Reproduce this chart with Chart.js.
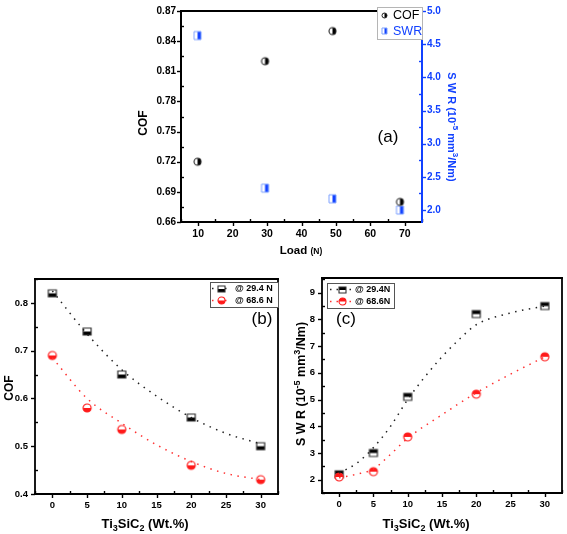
<!DOCTYPE html>
<html><head><meta charset="utf-8">
<script src="https://cdn.jsdelivr.net/npm/chart.js@4.4.0/dist/chart.umd.min.js"></script>
<style>
html,body{margin:0;padding:0;background:#fff;}
#wrap{position:relative;width:567px;height:534px;overflow:hidden;background:#fff;}
.layer{position:absolute;left:0;top:0;width:567px;height:534px;}
</style></head><body>
<div id="wrap">
<div class="layer"><canvas id="ca" width="567" height="534"></canvas></div>
<div class="layer"><canvas id="cb" width="567" height="534"></canvas></div>
<div class="layer"><canvas id="cc" width="567" height="534"></canvas></div>
</div>
<script>
// ---------- data ----------
// (a)
const loadN = [9.8, 29.4, 49, 68.6];
const cofA  = [0.72, 0.82, 0.85, 0.68];
const swrA  = [4.63, 2.33, 2.17, 2.0];
const aXTicks   = [10, 20, 30, 40, 50, 60, 70];
const aCofTicks = [0.66, 0.69, 0.72, 0.75, 0.78, 0.81, 0.84, 0.87];
const aSwrTicks = [2.0, 2.5, 3.0, 3.5, 4.0, 4.5, 5.0];
// (b) and (c)
const wtPct   = [0, 5, 10, 20, 30];
const cofB294 = [0.82, 0.74, 0.65, 0.56, 0.50];
const cofB686 = [0.69, 0.58, 0.535, 0.46, 0.43];
const fitXB      = [0, 5, 10, 15, 20, 25, 30];
const cofFit294  = [0.825, 0.735, 0.66, 0.605, 0.56, 0.527, 0.505];
const cofFit686  = [0.685, 0.60, 0.548, 0.503, 0.468, 0.443, 0.43];
const swrC294 = [2.2, 3.0, 5.1, 8.2, 8.5];
const swrC686 = [2.1, 2.3, 3.6, 5.2, 6.6];
const fitXC294   = [0, 2.5, 5, 7.5, 10, 12.5, 15, 17.5, 20, 25, 30];
const swrFit294  = [2.25, 2.6, 3.2, 4.0, 5.0, 5.85, 6.6, 7.25, 7.8, 8.24, 8.5];
const fitXC686   = [0, 2.5, 5, 7.5, 10, 15, 20, 25, 30];
const swrFit686  = [2.07, 2.2, 2.4, 2.95, 3.55, 4.43, 5.25, 5.95, 6.6];
const bXTicks   = [0, 5, 10, 15, 20, 25, 30];
const bCofTicks = [0.4, 0.5, 0.6, 0.7, 0.8];
const cSwrTicks = [2, 3, 4, 5, 6, 7, 8, 9];
const lbl294b = '@ 29.4 N', lbl686b = '@ 68.6 N';
const lbl294c = '@ 29.4N',  lbl686c = '@ 68.6N';

// ---------- styling helpers ----------
const FONT = '"Liberation Sans", Arial, Helvetica, sans-serif';
const BLUE = '#1141ff', RED = '#ff1a1a';
const pts = (xs, ys) => xs.map((x, i) => ({x, y: ys[i]}));

function makeMarker(shape, w, h, fill, outline, half, lw) {
  const pad = 2, c = document.createElement('canvas');
  c.width = w + pad * 2; c.height = h + pad * 2;
  const g = c.getContext('2d');
  const path = () => {
    g.beginPath();
    if (shape === 'circle') g.ellipse(pad + w / 2, pad + h / 2, w / 2, h / 2, 0, 0, Math.PI * 2);
    else g.rect(pad, pad, w, h);
  };
  path(); g.fillStyle = '#fff'; g.fill();
  g.save(); path(); g.clip(); g.fillStyle = fill;
  if (half === 'bottom') g.fillRect(pad, pad + h / 2, w, h / 2);
  if (half === 'top') g.fillRect(pad, pad, w, h / 2);
  if (half === 'right') g.fillRect(pad + w / 2, pad, w / 2, h);
  if (half === 'left') g.fillRect(pad, pad, w / 2, h);
  g.restore();
  path(); g.lineWidth = lw || 1.2; g.strokeStyle = outline; g.stroke();
  return c;
}
const mk = {
  cof: makeMarker('circle', 7, 7, '#000', '#222', 'right', 1.1),
  swr: makeMarker('rect', 7, 8, BLUE, '#7ea2ff', 'right', 1),
  cofL: makeMarker('circle', 5, 5, '#000', '#222', 'right', 1),
  swrL: makeMarker('rect', 5, 6, BLUE, '#7ea2ff', 'right', 1),
  sqB: makeMarker('rect', 8, 7, '#000', '#333', 'bottom', 1.2),
  ciB: makeMarker('circle', 8, 8, RED, RED, 'bottom', 1.2),
  sqBL: makeMarker('rect', 7, 6, '#000', '#333', 'bottom', 1.1),
  ciBL: makeMarker('circle', 7, 7, RED, RED, 'bottom', 1.1),
  sqC: makeMarker('rect', 8, 7, '#000', '#333', 'top', 1.2),
  ciC: makeMarker('circle', 8, 8, RED, RED, 'top', 1.2),
  sqCL: makeMarker('rect', 7, 6, '#000', '#333', 'top', 1.1),
  ciCL: makeMarker('circle', 7, 7, RED, RED, 'top', 1.1)
};

function richText(g, t) {
  g.save();
  g.translate(t.x, t.y);
  g.rotate((t.rot || 0) * Math.PI / 180);
  g.fillStyle = t.color || '#000';
  g.textBaseline = 'alphabetic'; g.textAlign = 'left';
  const fnt = s => `${s.bold === false ? 'normal' : 'bold'} ${s.size}px ${FONT}`;
  const ws = t.segs.map(s => { g.font = fnt(s); return g.measureText(s.t).width; });
  const tot = ws.reduce((p, q) => p + q, 0);
  let x = t.align === 'left' ? 0 : -tot / 2;
  const by = t.segs[0].size * 0.36;
  t.segs.forEach((s, i) => { g.font = fnt(s); g.fillText(s.t, x, by + (s.dy || 0)); x += ws[i]; });
  g.restore();
}

function makeDecor(cfg) {
  return {
    id: 'decor',
    afterDraw(chart) {
      const g = chart.ctx, a = chart.chartArea;
      g.save();
      for (const t of cfg.ticks) {
        const sc = chart.scales[t.id];
        const vals = sc.ticks.map(k => k.value);
        const step = vals[1] - vals[0];
        const minors = [];
        for (let k = -1; k < vals.length; k++) {
          const v = vals[0] + (k + 0.5) * step;
          if (v >= sc.min - 1e-9 && v <= sc.max + 1e-9) minors.push(v);
        }
        g.strokeStyle = t.color || '#000'; g.lineWidth = 1.4; g.lineCap = 'butt';
        const one = (v, len, out) => {
          const p = Math.round(sc.getPixelForValue(v)) + 0.5;
          g.beginPath();
          if (sc.position === 'left') { g.moveTo(a.left, p); g.lineTo(a.left + (out ? -len : len), p); }
          else if (sc.position === 'right') { g.moveTo(a.right, p); g.lineTo(a.right + (out ? len : -len), p); }
          else { g.moveTo(p, a.bottom); g.lineTo(p, a.bottom + (out ? len : -len)); }
          g.stroke();
        };
        vals.forEach(v => one(v, t.major, true));
        minors.forEach(v => one(v, t.minor, false));
      }
      const f = cfg.frame;
      g.lineWidth = f.lw; g.lineCap = 'square';
      const side = (c, x1, y1, x2, y2) => { g.strokeStyle = c; g.beginPath(); g.moveTo(x1, y1); g.lineTo(x2, y2); g.stroke(); };
      side(f.top, a.left, a.top, a.right, a.top);
      side(f.bottom, a.left, a.bottom, a.right, a.bottom);
      side(f.left, a.left, a.top, a.left, a.bottom);
      side(f.right, a.right, a.top, a.right, a.bottom);
      if (cfg.legend) {
        const L = cfg.legend;
        g.fillStyle = '#fff';
        g.fillRect(L.box[0], L.box[1], L.box[2] - L.box[0], L.box[3] - L.box[1]);
        g.lineWidth = 1; g.strokeStyle = L.border; g.lineCap = 'butt';
        g.strokeRect(L.box[0] + 0.5, L.box[1] + 0.5, L.box[2] - L.box[0], L.box[3] - L.box[1]);
        for (const it of L.items) {
          if (it.line) {
            g.save(); g.strokeStyle = it.line; g.lineWidth = 1.5; g.setLineDash([1.5, 5]);
            g.beginPath(); g.moveTo(it.l1, it.y); g.lineTo(it.l2, it.y); g.stroke(); g.restore();
          }
          g.drawImage(it.marker, Math.round(it.mx - it.marker.width / 2), Math.round(it.y - it.marker.height / 2));
          g.fillStyle = it.color; g.font = it.font; g.textBaseline = 'middle'; g.textAlign = 'left';
          g.fillText(chart.data.datasets[it.ds].label, it.tx, it.y + 0.5);
        }
      }
      for (const t of cfg.texts) richText(g, t);
      g.restore();
    }
  };
}

function axis(o) {
  return {
    type: 'linear', position: o.position, min: o.min, max: o.max,
    afterBuildTicks: s => { s.ticks = o.ticks.map(v => ({value: v})); },
    afterFit: s => { if (o.width != null) s.width = o.width; if (o.height != null) s.height = o.height; },
    grid: {display: false, drawTicks: false, tickLength: 0},
    border: {display: false},
    ticks: {padding: o.pad, color: o.color || '#000', autoSkip: false, maxRotation: 0,
            font: {family: FONT, size: o.fs, weight: 'bold'}, callback: o.fmt}
  };
}
const common = {responsive: false, animation: false, events: [],
  plugins: {legend: {display: false}, tooltip: {enabled: false}}};
const dotted = (color) => ({showLine: true, pointRadius: 0, borderColor: color, borderWidth: 1.5,
  borderDash: [1.5, 5.5], cubicInterpolationMode: 'monotone', fill: false});

// ---------- chart (a) ----------
new Chart(document.getElementById('ca'), {
  type: 'scatter',
  data: {datasets: [
    {label: 'COF', data: pts(loadN, cofA), yAxisID: 'y', pointStyle: mk.cof, showLine: false},
    {label: 'SWR', data: pts(loadN, swrA), yAxisID: 'y2', pointStyle: mk.swr, showLine: false}
  ]},
  options: {...common,
    layout: {padding: {left: 141, right: 105, top: 7, bottom: 292}},
    scales: {
      x: axis({position: 'bottom', min: 5, max: 75, ticks: aXTicks, height: 20, pad: 6, fs: 10.5, fmt: v => String(v)}),
      y: axis({position: 'left', min: 0.66, max: 0.87, ticks: aCofTicks, width: 40, pad: 5, fs: 10, fmt: v => v.toFixed(2)}),
      y2: axis({position: 'right', min: 1.82, max: 5.0, ticks: aSwrTicks, width: 40, pad: 5, fs: 10, color: BLUE, fmt: v => v.toFixed(1)})
    }
  },
  plugins: [makeDecor({
    ticks: [{id: 'x', major: 4, minor: 3}, {id: 'y', major: 4, minor: 3}, {id: 'y2', major: 4, minor: 3, color: BLUE}],
    frame: {lw: 2, top: '#000', bottom: '#000', left: '#000', right: BLUE},
    legend: {box: [377, 7, 422, 39], border: '#b5b5b5', items: [
      {ds: 0, y: 15, mx: 384, marker: mk.cofL, tx: 393, color: '#000', font: `12.5px ${FONT}`},
      {ds: 1, y: 31, mx: 384, marker: mk.swrL, tx: 393, color: BLUE, font: `12.5px ${FONT}`}
    ]},
    texts: [
      {x: 388, y: 136, segs: [{t: '(a)', size: 17, bold: false}]},
      {x: 143, y: 123, rot: -90, segs: [{t: 'COF', size: 12}]},
      {x: 301, y: 250, segs: [{t: 'Load ', size: 11.5}, {t: '(N)', size: 8.5}]},
      {x: 452, y: 127, rot: 90, color: BLUE, segs: [{t: 'S W R (10', size: 11}, {t: '-5', size: 8, dy: -5}, {t: ' mm', size: 11}, {t: '3', size: 8, dy: -5}, {t: '/Nm)', size: 11}]}
    ]
  })]
});

// ---------- chart (b) ----------
new Chart(document.getElementById('cb'), {
  type: 'scatter',
  data: {datasets: [
    {label: lbl294b, data: pts(wtPct, cofB294), pointStyle: mk.sqB, showLine: false},
    {label: lbl686b, data: pts(wtPct, cofB686), pointStyle: mk.ciB, showLine: false},
    {label: 'fit 29.4', data: pts(fitXB, cofFit294), ...dotted('#222')},
    {label: 'fit 68.6', data: pts(fitXB, cofFit686), ...dotted('#ff3030')}
  ].reverse()},
  options: {...common,
    layout: {padding: {left: 5, right: 289, top: 279, bottom: 20}},
    scales: {
      x: axis({position: 'bottom', min: -2.5, max: 32.5, ticks: bXTicks, height: 20, pad: 6, fs: 9.5, fmt: v => String(v)}),
      y: axis({position: 'left', min: 0.4, max: 0.85, ticks: bCofTicks, width: 30, pad: 7, fs: 9.5, fmt: v => v.toFixed(1)})
    }
  },
  plugins: [makeDecor({
    ticks: [{id: 'x', major: 4, minor: 3}, {id: 'y', major: 4, minor: 3}],
    frame: {lw: 1.8, top: '#000', bottom: '#000', left: '#000', right: '#000'},
    legend: {box: [210, 282, 278, 307], border: '#555', items: [
      {ds: 3, y: 288.5, l1: 212, l2: 230, line: '#222', mx: 221, marker: mk.sqBL, tx: 235, color: '#000', font: `bold 9px ${FONT}`},
      {ds: 2, y: 300.5, l1: 212, l2: 230, line: '#ff3030', mx: 221, marker: mk.ciBL, tx: 235, color: '#000', font: `bold 9px ${FONT}`}
    ]},
    texts: [
      {x: 262, y: 318, segs: [{t: '(b)', size: 17, bold: false}]},
      {x: 9, y: 388, rot: -90, segs: [{t: 'COF', size: 12}]},
      {x: 145, y: 523, segs: [{t: 'Ti', size: 13}, {t: '3', size: 9, dy: 3}, {t: 'SiC', size: 13}, {t: '2', size: 9, dy: 3}, {t: ' (Wt.%)', size: 13}]}
    ]
  })]
});

// ---------- chart (c) ----------
new Chart(document.getElementById('cc'), {
  type: 'scatter',
  data: {datasets: [
    {label: lbl294c, data: pts(wtPct, swrC294), pointStyle: mk.sqC, showLine: false},
    {label: lbl686c, data: pts(wtPct, swrC686), pointStyle: mk.ciC, showLine: false},
    {label: 'fit 29.4', data: pts(fitXC294, swrFit294), ...dotted('#222')},
    {label: 'fit 68.6', data: pts(fitXC686, swrFit686), ...dotted('#ff3030')}
  ].reverse()},
  options: {...common,
    layout: {padding: {left: 292, right: 2, top: 278, bottom: 21}},
    scales: {
      x: axis({position: 'bottom', min: -2.5, max: 32.5, ticks: bXTicks, height: 20, pad: 6, fs: 9.5, fmt: v => String(v)}),
      y: axis({position: 'left', min: 1.5, max: 9.55, ticks: cSwrTicks, width: 30, pad: 7, fs: 9.5, fmt: v => String(v)})
    }
  },
  plugins: [makeDecor({
    ticks: [{id: 'x', major: 4, minor: 3}, {id: 'y', major: 4, minor: 3}],
    frame: {lw: 1.8, top: '#000', bottom: '#000', left: '#000', right: '#000'},
    legend: {box: [327, 283, 394, 308], border: '#555', items: [
      {ds: 3, y: 289.5, l1: 330, l2: 351, line: '#222', mx: 342, marker: mk.sqCL, tx: 355, color: '#000', font: `bold 9px ${FONT}`},
      {ds: 2, y: 301.5, l1: 330, l2: 351, line: '#ff3030', mx: 342, marker: mk.ciCL, tx: 355, color: '#000', font: `bold 9px ${FONT}`}
    ]},
    texts: [
      {x: 346, y: 318, segs: [{t: '(c)', size: 17, bold: false}]},
      {x: 300, y: 384, rot: -90, segs: [{t: 'S W R (10', size: 12.5}, {t: '-5', size: 9, dy: -5}, {t: ' mm', size: 12.5}, {t: '3', size: 9, dy: -5}, {t: '/Nm)', size: 12.5}]},
      {x: 426, y: 523, segs: [{t: 'Ti', size: 13}, {t: '3', size: 9, dy: 3}, {t: 'SiC', size: 13}, {t: '2', size: 9, dy: 3}, {t: ' (Wt.%)', size: 13}]}
    ]
  })]
});
</script>
</body></html>
